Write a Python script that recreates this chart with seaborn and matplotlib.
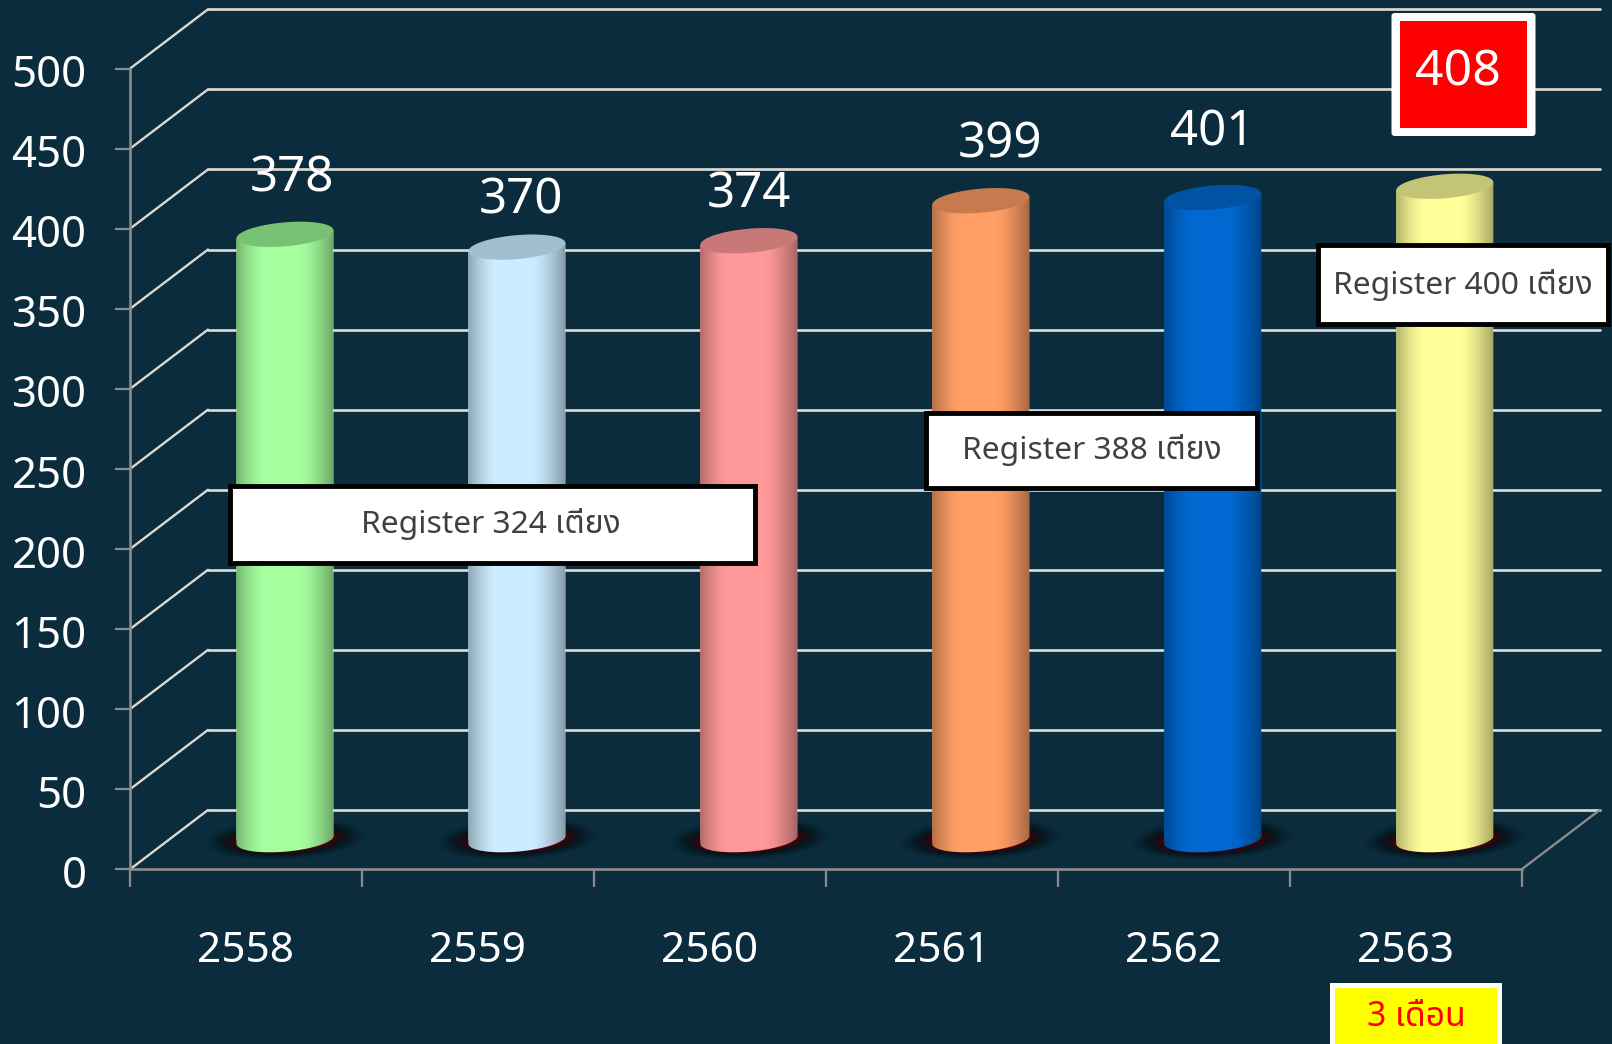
import numpy as np
import pandas as pd
import matplotlib
matplotlib.use("Agg")
import matplotlib.pyplot as plt
import seaborn as sns
from matplotlib import font_manager as fm
from matplotlib.ft2font import FT2Font
from matplotlib.patches import Polygon, Rectangle, FancyBboxPatch
from matplotlib.transforms import Affine2D, ScaledTranslation

# ---- data ----
years = ["2558", "2559", "2560", "2561", "2562", "2563"]
patients = [378, 370, 374, 399, 401, 408]
bar_colors = ["#A6FF9F", "#CCECFF", "#FF9999", "#FF9F66", "#0068D0", "#FFFF99"]
top_colors = ["#78C273", "#A2BFD0", "#C97878", "#C77A4D", "#0052A3", "#C4C476"]
y_ticks = [0, 50, 100, 150, 200, 250, 300, 350, 400, 450, 500]
register_notes = ["Register 324 เตียง", "Register 388 เตียง", "Register 400 เตียง"]
period_note = "3 เดือน"

# ---- look ----
BG = "#0A2C3C"
AXIS = "#8C8C8C"
GRID = "#DADAD2"
W, H = 1612, 1044
sns.set_theme(style="dark", rc={"axes.facecolor": "none", "figure.facecolor": BG})

thai = None
for pref in ["Noto Sans Thai", "Noto Sans Thai UI", "Noto Serif Thai", "Tahoma", "Loma", "Garuda", "Waree"]:
    try:
        fm.findfont(pref, fallback_to_default=False)
        thai = pref
        break
    except Exception:
        pass
if thai is None:
    for f in fm.fontManager.ttflist:
        try:
            if FT2Font(f.fname).get_char_index(0x0E40):
                thai = f.name
                break
        except Exception:
            pass
fams = ["Noto Sans"] + ([thai] if thai else []) + ["DejaVu Sans"]
plt.rcParams["font.family"] = fams

fig = plt.figure(figsize=(W / 100, H / 100), dpi=100, facecolor=BG)
px = Affine2D().scale(1, -1).translate(0, H)

# ---- geometry of the three planes (px) ----
X0, X1 = 130.0, 1521.7
Y0, UNIT = 869.3, 1.6014
CAT = (X1 - X0) / 6
DX, DY = 78.0, 59.3


def plane(shift, ymin):
    left = X0 + shift * DX
    bottom = Y0 - shift * DY - ymin * UNIT
    top = Y0 - shift * DY - 500 * UNIT
    a = fig.add_axes([left / W, 1 - bottom / H, (X1 - X0) / W, (bottom - top) / H])
    a.set_xlim(-0.5, 5.5)
    a.set_ylim(ymin, 500)
    return a


# back wall
ax_back = plane(1.0, 0)
ax_back.set_yticks(y_ticks)
ax_back.tick_params(left=False, bottom=False, labelleft=False, labelbottom=False)
ax_back.set_xticks([])
ax_back.grid(False)
for s in ax_back.spines.values():
    s.set_visible(False)
for v in y_ticks:
    ax_back.axhline(v, color=GRID, lw=1.95, zorder=1, clip_on=False)
ddx, ddy = DX / CAT, DY / UNIT
for v in y_ticks:
    ax_back.plot([-0.5 - ddx, -0.5], [v - ddy, v], color=GRID, lw=1.7, clip_on=False,
                 solid_capstyle="round", zorder=1)
ax_back.plot([5.5 - ddx, 5.5], [-ddy, 0], color=AXIS, lw=1.7, clip_on=False, zorder=1)
ax_back.set_zorder(0)

# front plane carries the axis
ax = plane(0.0, 0)
ax.set_zorder(1)
for k, s in ax.spines.items():
    s.set_visible(k in ("left", "bottom"))
    s.set_color(AXIS)
    s.set_linewidth(1.9)
ax.set_yticks(y_ticks)
ax.set_yticklabels([str(v) for v in y_ticks], fontsize=31.5, color="white")
ax.tick_params(axis="y", left=True, length=10.8, width=1.6, color=AXIS, pad=20.5)
for lab in ax.get_yticklabels():
    lab.set_transform(lab.get_transform() + ScaledTranslation(0, -1.5 / 72, fig.dpi_scale_trans))
ax.set_xticks(np.arange(-0.5, 6, 1))
ax.set_xticklabels([])
ax.set_xticks(np.arange(6), labels=years, minor=True)
ax.tick_params(axis="x", which="major", bottom=True, length=13, width=1.6, color=AXIS)
ax.tick_params(axis="x", which="minor", bottom=False, length=0, pad=43.5, labelsize=30.5, labelcolor="white")
ax.grid(False)

# mid plane carries the cylinders
ax_mid = plane(0.5, -40)
ax_mid.set_zorder(2)
df = pd.DataFrame({"year": years, "patients": patients})
BW = 0.418
sns.barplot(data=df, x="year", y="patients", hue="year", palette=bar_colors, legend=False,
            width=BW, saturation=1, ax=ax_mid, zorder=3, linewidth=0)
ax_mid.set_xlim(-0.5, 5.5)
ax_mid.set_ylim(-40, 500)
ax_mid.axis("off")

RY = 12.0 / UNIT
SK = 4.0 / UNIT
t = np.linspace(0, 2 * np.pi, 121)

# soft shadow
sx = np.linspace(-1, 1, 240)
sy = np.linspace(-1, 1, 120)
gx, gy = np.meshgrid(sx, sy)
r = np.sqrt(gx ** 2 + (gy - 0.18 * gx) ** 2)
shadow = np.zeros(r.shape + (4,))
red = np.clip((0.80 - r) / 0.22, 0, 1) ** 1.5
shadow[..., 0] = 0.30 * red
shadow[..., 1] = 0.01 * red
shadow[..., 2] = 0.05 * red
shadow[..., 3] = np.clip((1.0 - r) / 0.40, 0, 1) ** 1.3 * 0.95

# cylinder edge shading
u = np.linspace(-1, 1, 256)
alpha = np.where(u < 0, 0.30 * np.clip((-u - 0.42) / 0.58, 0, 1) ** 1.5,
                 0.34 * np.clip((u - 0.30) / 0.70, 0, 1) ** 1.5)
shade = np.zeros((1, 256, 4))
shade[0, :, 3] = alpha

for i, (v, c, tc, bar) in enumerate(zip(patients, bar_colors, top_colors, ax_mid.patches)):
    a = BW / 2
    ax_mid.imshow(shadow, extent=[i - 0.355, i + 0.355, -13, 13], aspect="auto", zorder=2,
                  interpolation="bilinear", origin="lower")
    arc = t[(t >= np.pi)]
    lower = np.column_stack([i + a * np.cos(arc), RY * np.sin(arc) + SK * np.cos(arc)])
    body = np.vstack([[[i - a, v - SK]], lower, [[i + a, v + SK]]])
    poly = Polygon(body, closed=True, facecolor=c, edgecolor="none", zorder=2.5)
    ax_mid.add_patch(poly)
    im = ax_mid.imshow(shade, extent=[i - a, i + a, -RY - 1, v + RY], aspect="auto", zorder=4,
                       interpolation="bilinear")
    im.set_clip_path(poly)
    bar.set_clip_path(poly)
    top = np.column_stack([i + a * np.cos(t), v + RY * np.sin(t) + SK * np.cos(t)])
    ax_mid.add_patch(Polygon(top, closed=True, facecolor=tc, edgecolor="none", zorder=5))
ax_mid.set_xlim(-0.5, 5.5)
ax_mid.set_ylim(-40, 500)

# ---- value labels ----
label_pos = [(292, 179), (521, 201), (748.5, 195), (1000, 145), (1212.5, 132)]
for v, (x, y) in zip(patients[:5], label_pos):
    fig.text(x, y, str(v), transform=px, ha="center", va="center", fontsize=35.5, color="white", zorder=8)

# 408 box
fig.add_artist(FancyBboxPatch((1391.5, 13), 144, 123, boxstyle="round,pad=0,rounding_size=3",
                              transform=px, facecolor="white", edgecolor="none", zorder=6))
fig.add_artist(Rectangle((1399.5, 21), 127.5, 107, transform=px, facecolor="#FF0000", edgecolor="none", zorder=7))
fig.text(1457.5, 72, str(patients[5]), transform=px, ha="center", va="center", fontsize=36, color="white", zorder=8)

# register boxes
boxes = [(230, 486, 525, 76.5), (925.5, 412.5, 331, 75.5), (1318, 245, 290, 78.5)]
centres = [(491, 523.5), (1092, 449.5), (1463, 285)]
for note, (x, y, w, h), (cx, cy) in zip(register_notes, boxes, centres):
    fig.add_artist(Rectangle((x, y), w, h, transform=px, facecolor="white", edgecolor="black",
                             linewidth=3.5, zorder=6))
    fig.text(cx, cy, note, transform=px, ha="center", va="center", fontsize=22.9, color="#404040",
             zorder=8, family=fams)

# period note
fig.add_artist(Rectangle((1332, 985), 167, 70, transform=px, facecolor="#FFFF00", edgecolor="white",
                         linewidth=3.6, zorder=6, clip_on=False))
fig.text(1416.5, 1016.5, period_note, transform=px, ha="center", va="center", fontsize=24.3, color="#FF0000",
         zorder=8, family=fams)

fig.savefig("out.png", dpi=100, facecolor=BG)
